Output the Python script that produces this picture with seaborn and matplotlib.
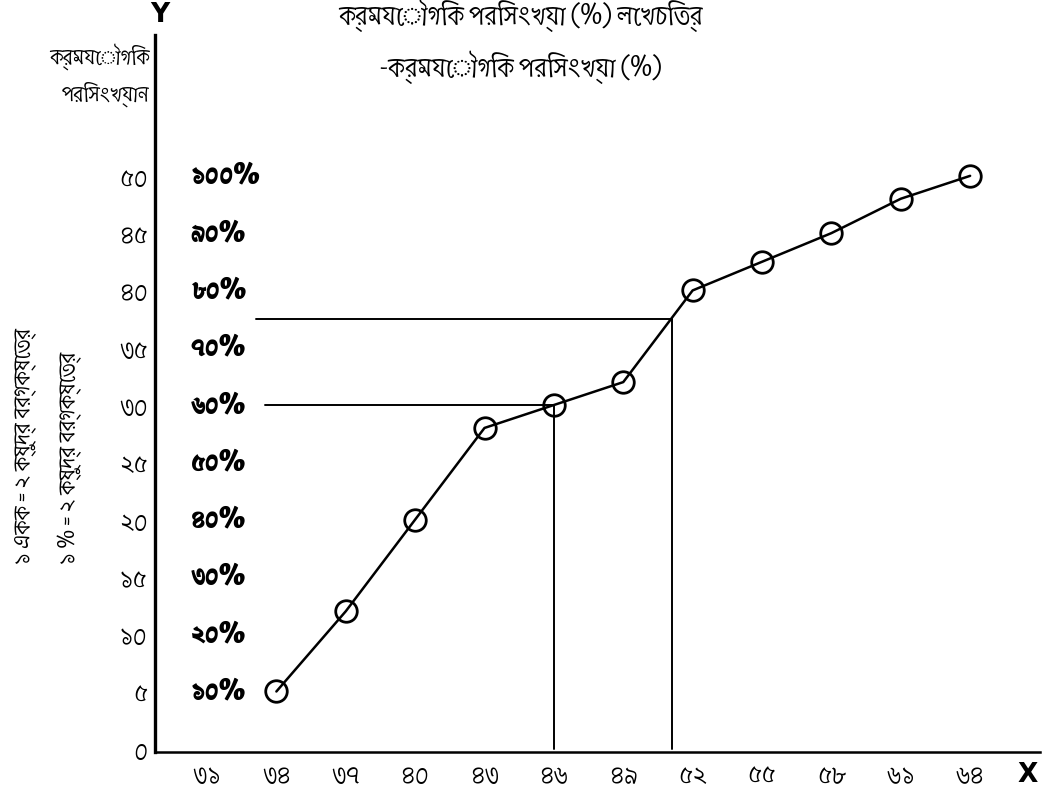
import matplotlib
matplotlib.use('Agg')
import matplotlib.pyplot as plt
import seaborn as sns
import pandas as pd
from matplotlib import font_manager, ft2font

upper_bounds = [34, 37, 40, 43, 46, 49, 52, 55, 58, 61, 64]
cum_freq = [5, 12, 20, 28, 30, 32, 40, 42.5, 45, 48, 50]

x_ticks = [31, 34, 37, 40, 43, 46, 49, 52, 55, 58, 61, 64]
x_tick_labels = ['৩১', '৩৪', '৩৭', '৪০', '৪৩', '৪৬', '৪৯', '৫২', '৫৫', '৫৮', '৬১', '৬৪']
y_ticks = [0, 5, 10, 15, 20, 25, 30, 35, 40, 45, 50]
y_tick_labels = ['০', '৫', '১০', '১৫', '২০', '২৫', '৩০', '৩৫', '৪০', '৪৫', '৫০']
pct_ticks = [5, 10, 15, 20, 25, 30, 35, 40, 45, 50]
pct_labels = ['১০%', '২০%', '৩০%', '৪০%', '৫০%', '৬০%', '৭০%', '৮০%', '৯০%', '১০০%']

# reading lines (60% and 75%)
guide_x = [46, 51.1]
guide_y = [30, 37.5]

title = 'ক্রমযৌগিক পরিসংখ্যা (%) লেখচিত্র'
series_name = '-ক্রমযৌগিক পরিসংখ্যা (%)'
y_name = 'ক্রমযৌগিক\nপরিসংখ্যান'
scale_1 = '১ একক = ২ ক্ষুদ্র বর্গক্ষেত্র'
scale_2 = '১ % = ২ ক্ষুদ্র বর্গক্ষেত্র'

sns.set_style('white')

# find a family that can draw Bengali (prefer one with a bold face too)
cands = {}
for f in font_manager.fontManager.ttflist:
    try:
        if 0x0995 in ft2font.FT2Font(f.fname).get_charmap():
            cands.setdefault(f.name, set()).add(f.weight)
    except Exception:
        pass
beng = None
for name, weights in cands.items():
    has_bold = any((w if isinstance(w, int) else 700 if w == 'bold' else 400) >= 600 for w in weights)
    if beng is None or has_bold:
        beng = name
        if has_bold:
            break
plt.rcParams['font.family'] = [beng, 'DejaVu Sans'] if beng else ['DejaVu Sans']
plt.rcParams['text.color'] = 'black'
plt.rcParams['xtick.color'] = 'black'
plt.rcParams['ytick.color'] = 'black'

df = pd.DataFrame({'x': upper_bounds, 'cf': cum_freq})

fig = plt.figure(figsize=(10.5, 7.93), dpi=100)
ax = fig.add_axes([0.1476, 0.052, 0.8424, 0.904])

# guide lines first so the curve sits on top
for gx, gy, x0 in zip(guide_x, guide_y, [33.5, 33.1]):
    ax.plot([gx, gx], [0, gy], color='black', lw=1.4)
    ax.plot([x0, gx], [gy, gy], color='black', lw=1.4)

sns.lineplot(data=df, x='x', y='cf', ax=ax, color='black', lw=1.8,
             marker='o', markersize=15.5, markerfacecolor='none',
             markeredgecolor='black', markeredgewidth=2.0)

ax.set_xlim(28.75, 67)
ax.set_ylim(-0.26, 62.3)

ax.set_xticks(x_ticks)
ax.set_xticklabels(x_tick_labels, fontsize=19)
ax.set_yticks(y_ticks)
ax.set_yticklabels(y_tick_labels, fontsize=19)
ax.tick_params(axis='both', length=0)
ax.tick_params(axis='x', pad=8)
ax.tick_params(axis='y', pad=5)
ax.set_xlabel('')
ax.set_ylabel('')

for v, lab in zip(pct_ticks, pct_labels):
    ax.text(30.3, v, lab, ha='left', va='center', fontsize=19, fontweight='bold')

sns.despine(ax=ax)
ax.spines['left'].set_linewidth(2.4)
ax.spines['bottom'].set_linewidth(1.8)
ax.spines['left'].set_color('black')
ax.spines['bottom'].set_color('black')

# axis letters
fig.text(160 / 1050, 1 - 15 / 793, 'Y', ha='center', va='center', fontsize=19,
         family='DejaVu Sans', fontweight='bold')
fig.text(1028 / 1050, 1 - 775 / 793, 'X', ha='center', va='center', fontsize=19,
         family='DejaVu Sans', fontweight='bold')

fig.text(521 / 1050, 1 - 15 / 793, title, ha='center', va='center', fontsize=20)
fig.text(521 / 1050, 1 - 67 / 793, series_name, ha='center', va='center', fontsize=20)
fig.text(150 / 1050, 1 - 75 / 793, y_name, ha='right', va='center', fontsize=16,
         multialignment='right', linespacing=1.6)

fig.text(25 / 1050, 1 - 565 / 793, scale_1, rotation=90, rotation_mode='anchor',
         ha='left', va='center', fontsize=17)
fig.text(70 / 1050, 1 - 565 / 793, scale_2, rotation=90, rotation_mode='anchor',
         ha='left', va='center', fontsize=17)

fig.savefig('out.png', dpi=100)
